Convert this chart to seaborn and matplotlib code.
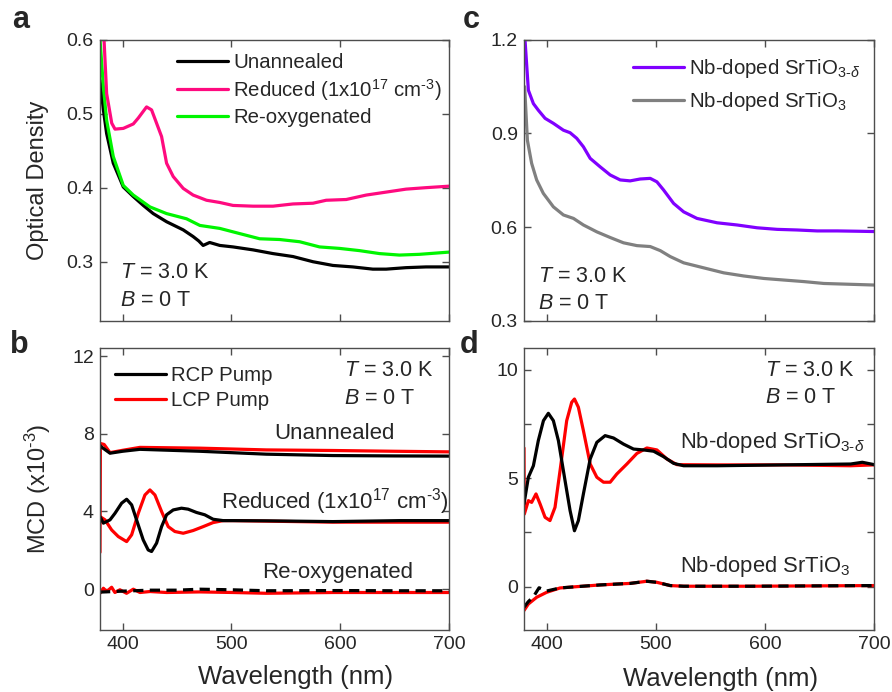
import numpy as np
import pandas as pd
import matplotlib
matplotlib.use("Agg")
import matplotlib.pyplot as plt
import seaborn as sns
from matplotlib.ticker import MultipleLocator

# ---------------- Panel a : optical density ----------------
wl_a_unann = [379.2, 382.3, 385.3, 391.4, 400.6, 409.8, 419.0, 428.1, 440.4, 455.7, 464.8, 470.0,
              474.0, 480.0, 489.3, 501.5, 519.9, 538.2, 556.6, 575.0, 593.3, 611.6, 630.0, 642.2,
              660.5, 678.9, 700.0]
od_unann = [0.545, 0.505, 0.473, 0.433, 0.401, 0.388, 0.376, 0.365, 0.354, 0.343, 0.334, 0.328,
            0.322, 0.326, 0.322, 0.320, 0.316, 0.311, 0.307, 0.300, 0.295, 0.293, 0.290, 0.290,
            0.292, 0.293, 0.293]
wl_a_reox = [379.2, 382.3, 385.3, 391.4, 400.6, 409.8, 425.1, 440.4, 458.7, 471.0, 489.3, 507.6,
             526.0, 544.3, 562.7, 581.0, 599.4, 617.7, 636.1, 654.4, 672.8, 700.0]
od_reox = [0.600, 0.536, 0.491, 0.442, 0.403, 0.390, 0.374, 0.365, 0.358, 0.349, 0.345, 0.338,
           0.331, 0.330, 0.327, 0.320, 0.318, 0.315, 0.311, 0.309, 0.310, 0.313]
wl_a_red = [382.9, 385.3, 390.0, 393.0, 400.6, 409.8, 414.4, 422.0, 426.6, 431.2, 435.8, 440.4,
            446.5, 455.7, 464.8, 477.1, 489.3, 501.5, 519.9, 538.2, 556.6, 575.0, 587.1, 605.5,
            623.9, 642.2, 660.5, 678.9, 700.0]
od_red = [0.600, 0.527, 0.487, 0.479, 0.480, 0.486, 0.494, 0.509, 0.505, 0.487, 0.469, 0.433,
          0.415, 0.399, 0.390, 0.383, 0.380, 0.376, 0.375, 0.375, 0.378, 0.379, 0.383, 0.384,
          0.390, 0.394, 0.398, 0.400, 0.402]

# ---------------- Panel c : optical density (Nb-doped) ----------------
wl_c_delta = [380.1, 383.2, 387.8, 392.3, 398.5, 406.1, 415.3, 421.4, 427.5, 433.6, 439.8, 448.9,
              458.1, 467.3, 476.4, 485.6, 494.8, 500.9, 507.0, 516.2, 525.4, 537.6, 556.0, 574.3,
              592.7, 611.0, 629.4, 647.7, 666.1, 684.4, 700.0]
od_delta = [1.200, 1.038, 0.995, 0.974, 0.948, 0.932, 0.910, 0.902, 0.884, 0.857, 0.820, 0.793,
            0.767, 0.751, 0.748, 0.754, 0.756, 0.745, 0.719, 0.676, 0.649, 0.628, 0.614, 0.607,
            0.598, 0.593, 0.591, 0.588, 0.588, 0.587, 0.586]
wl_c_sto = [379.8, 382.3, 386.2, 390.8, 396.9, 406.1, 415.3, 424.5, 433.6, 445.9, 458.1, 470.3,
            482.6, 494.8, 504.0, 513.1, 525.4, 543.7, 562.1, 580.4, 598.8, 617.1, 635.5, 653.8,
            672.2, 700.0]
od_sto = [1.049, 0.878, 0.804, 0.751, 0.708, 0.665, 0.639, 0.628, 0.607, 0.585, 0.567, 0.550,
          0.541, 0.538, 0.525, 0.506, 0.486, 0.470, 0.454, 0.444, 0.436, 0.431, 0.426, 0.420,
          0.418, 0.415]

# ---------------- Panel b : MCD (x1e-3) ----------------
wl_b_un_r = [379.2, 379.6, 383.0, 388.4, 400.0, 415.9, 471.0, 532.0, 593.0, 650.0, 700.0]
mcd_un_r = [1.9, 7.5, 7.45, 7.03, 7.15, 7.30, 7.26, 7.17, 7.14, 7.10, 7.07]
wl_b_un_k = [379.2, 381.0, 388.4, 400.0, 415.9, 471.0, 532.0, 593.0, 650.0, 700.0]
mcd_un_k = [7.4, 7.3, 7.0, 7.1, 7.2, 7.10, 6.95, 6.88, 6.86, 6.85]

wl_b_red_k = [379.2, 382.3, 388.4, 393.0, 399.1, 403.7, 408.3, 412.8, 418.9, 423.5, 426.6, 431.2,
              435.8, 440.4, 446.5, 454.1, 460.2, 467.9, 475.5, 483.2, 492.4, 501.5, 532.1, 593.3,
              654.4, 700.0]
mcd_red_k = [3.74, 3.40, 3.57, 3.91, 4.43, 4.63, 4.34, 3.57, 2.54, 2.02, 1.94, 2.37,
             3.22, 3.83, 4.08, 4.17, 4.12, 3.95, 3.83, 3.60, 3.53, 3.53, 3.52, 3.48,
             3.53, 3.53]
wl_b_red_r = [379.2, 383.8, 389.9, 396.0, 403.7, 408.3, 414.4, 420.5, 425.1, 429.7, 435.8, 441.9,
              448.0, 455.7, 464.8, 474.0, 483.2, 492.4, 501.5, 593.3, 700.0]
mcd_red_r = [3.74, 3.57, 3.05, 2.71, 2.45, 2.80, 3.91, 4.85, 5.11, 4.85, 4.00, 3.22,
             2.97, 2.88, 3.02, 3.22, 3.43, 3.53, 3.53, 3.45, 3.45]

wl_b_ox_k = [379.2, 400.0, 425.0, 450.0, 471.0, 500.0, 532.0, 600.0, 650.0, 700.0]
mcd_ox_k = [-0.15, -0.10, -0.05, -0.05, 0.0, -0.03, -0.08, -0.07, -0.08, -0.08]
wl_b_ox_r = [379.2, 382.3, 385.3, 389.9, 392.9, 397.5, 403.6, 409.8, 415.9, 425.1, 440.4, 471.0,
             501.5, 532.1, 593.3, 650.0, 700.0]
mcd_ox_r = [-0.21, 0.05, -0.12, 0.10, -0.17, -0.03, -0.21, 0.00, -0.17, -0.12, -0.17, -0.14,
            -0.17, -0.21, -0.17, -0.17, -0.17]

# ---------------- Panel d : MCD (x1e-3), Nb-doped ----------------
wl_d_delta_k = [379.2, 383.2, 387.8, 392.3, 397.0, 401.5, 406.1, 410.7, 416.8, 421.4, 425.4, 429.0,
                433.6, 439.8, 445.9, 453.5, 461.2, 470.3, 479.5, 488.7, 497.9, 507.0, 516.2, 525.4,
                556.0, 617.1, 678.3, 689.0, 700.0]
mcd_d_delta_k = [3.82, 5.05, 5.58, 6.74, 7.66, 8.00, 7.66, 6.74, 4.89, 3.51, 2.58, 3.05,
                 4.28, 5.89, 6.66, 6.97, 6.86, 6.58, 6.35, 6.31, 6.25, 6.00, 5.69, 5.58,
                 5.58, 5.62, 5.66, 5.74, 5.63]
wl_d_delta_r = [379.2, 379.5, 383.2, 386.2, 390.2, 393.9, 398.5, 403.0, 407.6, 412.2, 418.3, 422.9,
                425.4, 429.0, 433.6, 439.8, 445.9, 452.0, 458.1, 464.2, 473.4, 482.6, 491.7, 500.9,
                510.1, 519.3, 556.0, 617.1, 678.3, 700.0]
mcd_d_delta_r = [6.4, 3.35, 3.97, 3.89, 4.28, 3.82, 3.20, 3.05, 3.66, 5.35, 7.66, 8.51,
                 8.66, 8.28, 7.20, 5.66, 5.05, 4.82, 4.82, 5.20, 5.66, 6.15, 6.40, 6.31,
                 5.89, 5.63, 5.62, 5.62, 5.58, 5.62]
wl_d_sto_r = [379.2, 383.2, 390.8, 400.0, 412.2, 427.5, 449.0, 464.2, 476.4, 491.7, 500.9, 513.1,
              525.4, 586.6, 700.0]
mcd_d_sto_r = [-1.10, -0.80, -0.49, -0.26, -0.06, 0.00, 0.08, 0.12, 0.15, 0.25, 0.20, 0.05,
               0.02, 0.02, 0.05]
wl_d_sto_k = [379.2, 383.0, 388.0, 393.0, 400.0, 412.2, 427.5, 449.0, 464.2, 476.4, 491.7, 500.9,
              513.1, 525.4, 586.6, 700.0]
mcd_d_sto_k = [-0.95, -0.70, -0.45, -0.05, -0.20, -0.06, 0.00, 0.08, 0.12, 0.15, 0.25, 0.20,
               0.05, 0.02, 0.02, 0.05]

# ---------------- style ----------------
sns.set_theme(style="ticks")
plt.rcParams["font.family"] = ["Liberation Sans", "DejaVu Sans"]
plt.rcParams["mathtext.fontset"] = "custom"
plt.rcParams["mathtext.rm"] = "Liberation Sans"
plt.rcParams["mathtext.it"] = "Liberation Sans:italic"
plt.rcParams["mathtext.bf"] = "Liberation Sans:bold"
plt.rcParams["axes.unicode_minus"] = False

SPINE = "#4d4d4d"
LW = 2.3
FIG_W, FIG_H = 892, 692

fig = plt.figure(figsize=(8.92, 6.92), dpi=100)


def axes_px(left, top, right, bottom):
    return fig.add_axes([left / FIG_W, 1 - bottom / FIG_H, (right - left) / FIG_W, (bottom - top) / FIG_H])


ax_a = axes_px(100, 39.5, 449, 321)
ax_c = axes_px(524, 39.5, 874.3, 321)
ax_b = axes_px(100, 348.3, 449, 630)
ax_d = axes_px(524, 348.3, 874.3, 630)


def draw(ax, x, y, color, label=None, dashed=False):
    df = pd.DataFrame({"x": x, "y": y})
    kw = dict(color=color, lw=LW, legend=False, sort=False, estimator=None)
    if dashed:
        kw["dashes"] = False
        kw["linestyle"] = (0, (3.2, 2.0))
    sns.lineplot(data=df, x="x", y="y", ax=ax, label=label, **kw)
    return ax.lines[-1]


def style_axes(ax):
    for s in ax.spines.values():
        s.set_color(SPINE)
        s.set_linewidth(1.0)
    ax.tick_params(which="both", direction="in", top=True, right=True, color=SPINE,
                   labelsize=14, pad=4.5, width=1.0)
    ax.tick_params(which="major", length=5)
    ax.tick_params(which="minor", length=5)
    ax.set_xlim(379.2, 700)
    ax.xaxis.set_major_locator(MultipleLocator(100))
    ax.set_xlabel("")
    ax.set_ylabel("")


REDUCED = r"Reduced (1x10$^{17}$ cm$^{\text{-3}}$)"
STO_D = r"Nb-doped SrTiO$_{3\text{-}\delta}$"
STO = r"Nb-doped SrTiO$_{3}$"

# ---- panel a ----
PINK = "#ff0a7f"
GREEN = "#00f500"
h_un = draw(ax_a, wl_a_unann, od_unann, "black", "Unannealed")
h_ox = draw(ax_a, wl_a_reox, od_reox, GREEN, "Re-oxygenated")
h_rd = draw(ax_a, wl_a_red, od_red, PINK, REDUCED)
style_axes(ax_a)
ax_a.set_ylim(0.22, 0.6)
ax_a.set_yticks([0.3, 0.4, 0.5, 0.6])
ax_a.tick_params(axis="x", labelbottom=False)
ax_a.set_ylabel("Optical Density", fontsize=17)
ax_a.yaxis.set_label_coords(-0.147, 0.5)
ax_a.legend(handles=[h_un, h_rd, h_ox], loc="upper left", bbox_to_anchor=(0.221, 0.953),
            frameon=False, borderpad=0, borderaxespad=0, handlelength=2.5, handletextpad=0.25,
            labelspacing=0.25, fontsize=14.7)
ax_a.text(0.057, 0.152, r"$\mathit{T}$ = 3.0 K", transform=ax_a.transAxes, fontsize=15.5, va="baseline")
ax_a.text(0.057, 0.053, r"$\mathit{B}$ = 0 T", transform=ax_a.transAxes, fontsize=15.5, va="baseline")

# ---- panel c ----
PURPLE = "#8000ff"
GRAY = "#808080"
h_d = draw(ax_c, wl_c_delta, od_delta, PURPLE, STO_D)
h_s = draw(ax_c, wl_c_sto, od_sto, GRAY, STO)
style_axes(ax_c)
ax_c.set_ylim(0.3, 1.2)
ax_c.set_yticks([0.3, 0.6, 0.9, 1.2])
ax_c.tick_params(axis="x", labelbottom=False)
ax_c.legend(handles=[h_d, h_s], loc="upper left", bbox_to_anchor=(0.311, 0.937),
            frameon=False, borderpad=0, borderaxespad=0, handlelength=2.5, handletextpad=0.25,
            labelspacing=0.5, fontsize=14.7)
ax_c.text(0.04, 0.140, r"$\mathit{T}$ = 3.0 K", transform=ax_c.transAxes, fontsize=15.5, va="baseline")
ax_c.text(0.04, 0.0415, r"$\mathit{B}$ = 0 T", transform=ax_c.transAxes, fontsize=15.5, va="baseline")

# ---- panel b ----
RED = "#ff0000"
draw(ax_b, wl_b_un_r, mcd_un_r, RED)
draw(ax_b, wl_b_un_k, mcd_un_k, "black")
h_lcp = draw(ax_b, wl_b_red_r, mcd_red_r, RED, "LCP Pump")
h_rcp = draw(ax_b, wl_b_red_k, mcd_red_k, "black", "RCP Pump")
draw(ax_b, wl_b_ox_r, mcd_ox_r, RED)
draw(ax_b, wl_b_ox_k, mcd_ox_k, "black", dashed=True)
style_axes(ax_b)
ax_b.set_ylim(-2.1, 12.4)
ax_b.set_yticks([0, 4, 8, 12])
ax_b.set_ylabel(r"MCD (x10$^{\text{-3}}$)", fontsize=17)
ax_b.yaxis.set_label_coords(-0.135, 0.5)
ax_b.set_xlabel("Wavelength (nm)", fontsize=18.5)
ax_b.xaxis.set_label_coords(0.561, -0.124)
ax_b.legend(handles=[h_rcp, h_lcp], loc="upper left", bbox_to_anchor=(0.043, 0.937),
            frameon=False, borderpad=0, borderaxespad=0, handlelength=2.5, handletextpad=0.25,
            labelspacing=0.28, fontsize=14.7)
ax_b.text(0.699, 0.9017, r"$\mathit{T}$ = 3.0 K", transform=ax_b.transAxes, fontsize=15.5, va="baseline")
ax_b.text(0.699, 0.802, r"$\mathit{B}$ = 0 T", transform=ax_b.transAxes, fontsize=15.5, va="baseline")
ax_b.text(0.673, 0.677, "Unannealed", transform=ax_b.transAxes, fontsize=16, ha="center", va="baseline")
ax_b.text(0.673, 0.432, REDUCED, transform=ax_b.transAxes, fontsize=16, ha="center", va="baseline")
ax_b.text(0.682, 0.1835, "Re-oxygenated", transform=ax_b.transAxes, fontsize=16, ha="center", va="baseline")

# ---- panel d ----
draw(ax_d, wl_d_delta_r, mcd_d_delta_r, RED)
draw(ax_d, wl_d_delta_k, mcd_d_delta_k, "black")
draw(ax_d, wl_d_sto_r, mcd_d_sto_r, RED)
draw(ax_d, wl_d_sto_k, mcd_d_sto_k, "black", dashed=True)
style_axes(ax_d)
ax_d.set_ylim(-2.0, 11.0)
ax_d.set_yticks([0, 5, 10])
ax_d.yaxis.set_minor_locator(MultipleLocator(2.5))
ax_d.set_xlabel("Wavelength (nm)", fontsize=18.5)
ax_d.xaxis.set_label_coords(0.56, -0.13)
ax_d.text(0.688, 0.9017, r"$\mathit{T}$ = 3.0 K", transform=ax_d.transAxes, fontsize=15.5, va="baseline")
ax_d.text(0.688, 0.805, r"$\mathit{B}$ = 0 T", transform=ax_d.transAxes, fontsize=15.5, va="baseline")
ax_d.text(0.445, 0.645, STO_D, transform=ax_d.transAxes, fontsize=15.8, va="baseline")
ax_d.text(0.445, 0.207, STO, transform=ax_d.transAxes, fontsize=15.8, va="baseline")

# panel letters
for letter, xp, yp in [("a", 12, 28), ("c", 463, 28), ("b", 10, 352.7), ("d", 460, 353)]:
    fig.text(xp / FIG_W, 1 - yp / FIG_H, letter, fontsize=22, fontweight="bold", va="baseline")

fig.savefig("out.png", dpi=100)
